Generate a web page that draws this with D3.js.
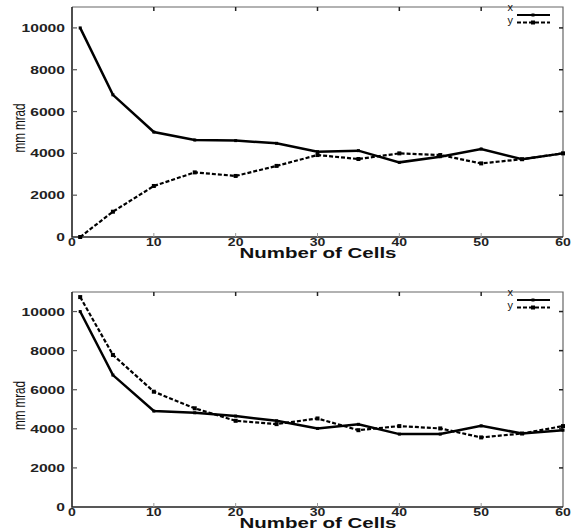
<!DOCTYPE html>
<html>
<head>
<meta charset="utf-8">
<script src="https://cdn.jsdelivr.net/npm/d3@7"></script>
<style>
  body { margin: 0; background: #fff; }
  text { font-family: "Liberation Sans", Arial, sans-serif; fill: #111; }
</style>
</head>
<body>
<script>
var width = 577,
    height = 530;

// data
var cells = [1, 5, 10, 15, 20, 25, 30, 35, 40, 45, 50, 55, 60];
var topX = [10000, 6800, 5020, 4640, 4610, 4480, 4080, 4130, 3570, 3840, 4210, 3720, 4000];
var topY = [0, 1210, 2440, 3090, 2920, 3400, 3920, 3730, 4000, 3920, 3520, 3720, 4000];
var botX = [10000, 6750, 4910, 4820, 4650, 4410, 4020, 4230, 3730, 3730, 4150, 3760, 3930];
var botY = [10740, 7780, 5900, 5050, 4410, 4240, 4530, 3930, 4140, 4020, 3560, 3760, 4140];
var xTicks = [0, 10, 20, 30, 40, 50, 60];
var yTicks = [0, 2000, 4000, 6000, 8000, 10000];
var seriesNames = ['x', 'y'];

var svg = d3.select('body')
    .append('svg')
    .attr('width', width)
    .attr('height', height);

var x = d3.scaleLinear()
    .domain([0, 60])
    .range([72, 563]);

var drawPanel = function(top, bottom, xs, ys) {
    var y = d3.scaleLinear()
        .domain([0, 11000])
        .range([bottom, top]);

    var g = svg.append('g');

    // frame: grey top/right, dark left/bottom
    g.append('path')
        .attr('d', 'M' + x(0) + ',' + top + 'H' + x(60) + 'V' + bottom)
        .style('fill', 'none')
        .style('stroke', '#666')
        .style('stroke-width', 1.2);
    g.append('path')
        .attr('d', 'M' + x(0) + ',' + top + 'V' + bottom + 'H' + x(60))
        .style('fill', 'none')
        .style('stroke', '#222')
        .style('stroke-width', 1.6);

    // inward ticks
    var inner = xTicks.slice(1, -1);
    g.selectAll('line.tt')
        .data(inner)
        .enter()
        .append('line')
        .attr('x1', function(d) { return x(d); })
        .attr('x2', function(d) { return x(d); })
        .attr('y1', top)
        .attr('y2', top + 4)
        .style('stroke', '#222')
        .style('stroke-width', 1.5);
    g.selectAll('line.bt')
        .data(inner)
        .enter()
        .append('line')
        .attr('x1', function(d) { return x(d); })
        .attr('x2', function(d) { return x(d); })
        .attr('y1', bottom)
        .attr('y2', bottom - 4)
        .style('stroke', '#999')
        .style('stroke-width', 1);
    g.selectAll('line.rt')
        .data(yTicks.slice(1))
        .enter()
        .append('line')
        .attr('x1', x(60))
        .attr('x2', x(60) - 4)
        .attr('y1', function(d) { return y(d); })
        .attr('y2', function(d) { return y(d); })
        .style('stroke', '#222')
        .style('stroke-width', 1.5);
    g.selectAll('line.lt')
        .data(yTicks.slice(1))
        .enter()
        .append('line')
        .attr('x1', x(0))
        .attr('x2', x(0) + 5)
        .attr('y1', function(d) { return y(d); })
        .attr('y2', function(d) { return y(d); })
        .style('stroke', '#555')
        .style('stroke-width', 1.2);

    // y tick labels
    g.selectAll('text.yl')
        .data(yTicks)
        .enter()
        .append('text')
        .attr('x', 65)
        .attr('y', function(d) { return y(d) + 4; })
        .attr('text-anchor', 'end')
        .attr('textLength', function(d) { return String(d).length * 8.7; })
        .attr('lengthAdjust', 'spacingAndGlyphs')
        .style('font-size', '11.5px')
        .style('font-weight', 'bold')
        .style('fill', '#222')
        .text(function(d) { return d; });

    // x tick labels
    g.selectAll('text.xl')
        .data(xTicks)
        .enter()
        .append('text')
        .attr('x', function(d) { return x(d); })
        .attr('y', bottom + 9)
        .attr('text-anchor', 'middle')
        .attr('textLength', function(d) { return String(d).length * 7.8; })
        .attr('lengthAdjust', 'spacingAndGlyphs')
        .style('font-size', '10.5px')
        .style('font-weight', 'bold')
        .style('fill', '#222')
        .text(function(d) { return d; });

    // axis titles
    g.append('text')
        .attr('x', 318)
        .attr('y', bottom + 20.5)
        .attr('text-anchor', 'middle')
        .attr('textLength', 157)
        .attr('lengthAdjust', 'spacingAndGlyphs')
        .style('font-size', '15px')
        .style('font-weight', 'bold')
        .text('Number of Cells');

    g.append('text')
        .attr('transform', 'translate(25,' + (top + (bottom - top) * 0.5 + 6) + ') rotate(-90)')
        .attr('text-anchor', 'middle')
        .attr('textLength', 49)
        .attr('lengthAdjust', 'spacingAndGlyphs')
        .style('font-size', '17px')
        .text('mm mrad');

    var line = d3.line()
        .x(function(d) { return x(d[0]); })
        .y(function(d) { return y(d[1]); });

    var sets = [xs, ys];
    var dashes = [null, '4,2'];
    var widths = [2.5, 2.2];
    var marks = [3, 4];

    sets.forEach(function(vals, k) {
        var pts = cells.map(function(c, i) { return [c, vals[i]]; });
        g.append('path')
            .datum(pts)
            .attr('d', line)
            .style('fill', 'none')
            .style('stroke', '#000')
            .style('stroke-width', widths[k])
            .style('stroke-dasharray', dashes[k]);
        g.selectAll('rect.m' + k)
            .data(pts)
            .enter()
            .append('rect')
            .attr('x', function(d) { return x(d[0]) - marks[k] / 2; })
            .attr('y', function(d) { return y(d[1]) - marks[k] / 2; })
            .attr('width', marks[k])
            .attr('height', marks[k])
            .style('fill', '#000');
    });

    // legend
    seriesNames.forEach(function(name, k) {
        var ly = top + 8 + k * 7.5;
        g.append('text')
            .attr('x', 513)
            .attr('y', top + 4 + k * 13)
            .attr('text-anchor', 'end')
            .style('font-size', '11px')
            .text(name);
        g.append('line')
            .attr('x1', 517)
            .attr('x2', 550)
            .attr('y1', ly)
            .attr('y2', ly)
            .style('stroke', '#000')
            .style('stroke-width', widths[k] - 0.4)
            .style('stroke-dasharray', dashes[k]);
        g.append('rect')
            .attr('x', 533 - marks[k] / 2)
            .attr('y', ly - marks[k] / 2)
            .attr('width', marks[k])
            .attr('height', marks[k])
            .style('fill', '#000');
    });
};

drawPanel(7, 237, topX, topY);
drawPanel(292, 507, botX, botY);
</script>
</body>
</html>
